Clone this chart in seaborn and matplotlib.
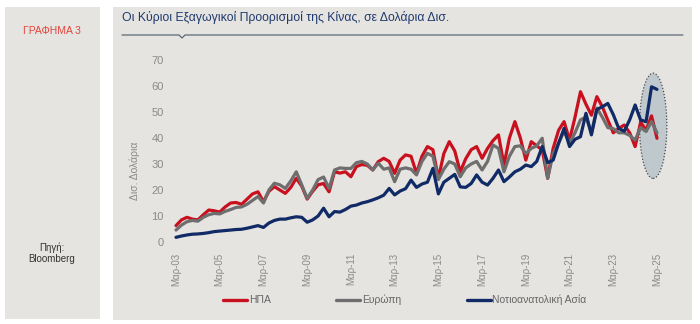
import numpy as np
import pandas as pd
import matplotlib
matplotlib.use("Agg")
import matplotlib.pyplot as plt
from matplotlib.patches import Rectangle, Ellipse
from matplotlib.lines import Line2D
import seaborn as sns

# Monthly exports (bn USD), sampled each quarter, Mar-03 .. Mar-25
usa = [
    6.3, 8.5, 9.5, 8.8,
    8.5, 10.5, 12.3, 12.0,
    11.5, 13.5, 15.0, 15.2,
    14.5, 16.5, 18.5, 19.3,
    15.5, 19.5, 21.3, 20.0,
    18.7, 21.0, 24.5, 21.5,
    16.5, 19.5, 22.0, 22.5,
    19.3, 27.0, 26.5, 27.0,
    25.1, 29.0, 29.8, 29.5,
    27.7, 30.9, 32.2, 31.0,
    26.4, 31.5, 33.5, 33.0,
    26.4, 33.0, 36.7, 35.5,
    24.5, 34.0, 38.6, 35.0,
    27.0, 32.0, 35.5, 36.7,
    32.2, 36.0, 39.0, 41.2,
    29.6, 40.0, 46.3, 40.0,
    31.5, 38.6, 37.0, 35.4,
    24.5, 36.0, 43.0, 46.3,
    39.2, 48.0, 57.8, 53.0,
    48.8, 55.9, 52.0, 46.9,
    42.0, 43.7, 45.0, 42.0,
    36.7, 46.0, 43.0, 48.5,
    39.9,
]

europe = [
    4.6, 6.5, 7.8, 8.3,
    8.0, 9.5, 10.5, 11.0,
    10.8, 11.8, 12.5, 13.3,
    13.5, 14.5, 16.0, 17.5,
    15.0, 20.0, 22.6, 22.0,
    20.6, 23.5, 27.0, 22.0,
    16.8, 20.0, 24.0, 25.0,
    20.6, 27.7, 28.5, 28.3,
    28.3, 30.5, 31.0, 30.0,
    27.7, 30.3, 28.0, 28.5,
    23.2, 28.0, 28.5, 28.0,
    25.8, 31.0, 34.1, 33.0,
    24.0, 28.0, 30.9, 30.0,
    25.1, 28.5, 30.0, 31.0,
    27.7, 31.0, 37.3, 36.0,
    27.0, 33.0, 36.7, 37.0,
    34.0, 36.0, 37.0, 39.9,
    24.5, 34.0, 38.0, 42.6,
    38.0, 42.0, 47.0, 48.0,
    42.0, 51.5, 48.0, 44.0,
    43.6, 42.0, 42.0, 41.0,
    39.2, 44.0, 42.5, 46.3,
    42.0,
]

se_asia = [
    1.8, 2.3, 2.7, 3.0,
    3.1, 3.3, 3.6, 4.0,
    4.2, 4.4, 4.6, 4.8,
    4.9, 5.3, 5.8, 6.3,
    5.6, 7.3, 8.3, 8.8,
    8.8, 9.3, 9.7, 9.5,
    7.6, 8.5, 10.0, 13.0,
    9.7, 11.7, 11.5, 12.5,
    13.8, 14.2, 15.0, 15.5,
    16.2, 17.0, 18.0, 20.6,
    18.1, 19.6, 20.5, 23.8,
    21.0, 22.3, 23.0, 28.3,
    18.5, 23.0, 24.5, 26.0,
    21.2, 21.0, 22.5, 25.8,
    23.0, 21.9, 24.5, 27.7,
    23.2, 25.0, 27.0, 28.0,
    29.6, 29.0, 31.0, 36.7,
    30.5, 31.5, 38.0, 43.7,
    36.7, 39.5, 40.5, 49.5,
    41.2, 51.0, 52.0, 53.3,
    49.0, 43.7, 42.6, 47.0,
    52.7, 46.9, 46.3, 59.7,
    58.7,
]

series_names = ["ΗΠΑ", "Ευρώπη", "Νοτιοανατολική Ασία"]
series_colors = ["#c8101e", "#6e6e6e", "#102a66"]
tick_labels = ["Μαρ-03", "Μαρ-05", "Μαρ-07", "Μαρ-09", "Μαρ-11", "Μαρ-13",
               "Μαρ-15", "Μαρ-17", "Μαρ-19", "Μαρ-21", "Μαρ-23", "Μαρ-25"]

n = len(usa)
quarter = np.arange(n)
df = pd.concat([
    pd.DataFrame({"q": quarter, "value": vals, "series": name})
    for name, vals in zip(series_names, [usa, europe, se_asia])
], ignore_index=True)

sns.set_theme(style="white")
plt.rcParams["font.family"] = ["Liberation Sans", "DejaVu Sans"]

W, H = 700, 324
fig = plt.figure(figsize=(W / 100, H / 100), dpi=100)
fig.patch.set_facecolor("white")


def fx(px):
    return px / W


def fy(py):
    return 1 - py / H


panel = "#e6e4e1"
# side panel and main panel
fig.add_artist(Rectangle((fx(5), fy(319)), fx(100) - fx(5), fy(7) - fy(319),
                         transform=fig.transFigure, facecolor=panel,
                         edgecolor="none", zorder=0))
fig.add_artist(Rectangle((fx(113), fy(320)), fx(692) - fx(113), fy(7) - fy(320),
                         transform=fig.transFigure, facecolor=panel,
                         edgecolor="none", zorder=0))

fig.text(fx(52), fy(31), "ΓΡΑΦΗΜΑ 3", color="#e0463e", fontsize=7.5,
         ha="center", va="center")
fig.text(fx(52), fy(253), "Πηγή:\nBloomberg", color="#333333", fontsize=7,
         ha="center", va="center", linespacing=1.1)

fig.text(fx(122), fy(17), "Οι Κύριοι Εξαγωγικοί Προορισμοί της Κίνας, σε Δολάρια Δισ.",
         color="#1f3a6e", fontsize=8.8, ha="left", va="center")
xs = [122, 179, 182, 185, 683]
ys = [35, 35, 38, 35, 35]
fig.add_artist(Line2D([fx(v) for v in xs], [fy(v) for v in ys],
                      transform=fig.transFigure, color="#5b6876", lw=0.9))

# plot area
x0, x1 = -2, 90
y0, y1 = -1, 72
px_per_q = (657 - 176) / 88
left_px = 176 + x0 * px_per_q
right_px = 176 + x1 * px_per_q
bot_px = 242 - y0 * 2.6
top_px = 242 - y1 * 2.6
ax = fig.add_axes([fx(left_px), fy(bot_px), fx(right_px) - fx(left_px),
                   fy(top_px) - fy(bot_px)])
ax.set_facecolor("none")

ax.add_patch(Ellipse((87.3, 44.7), 5.0, 40.5, facecolor="#bfc8cd",
                     edgecolor="#4a4a4a", linestyle=(0, (1, 1.5)), lw=0.9,
                     zorder=1))

sns.lineplot(data=df, x="q", y="value", hue="series", hue_order=series_names,
             palette=dict(zip(series_names, series_colors)), linewidth=2.3,
             ax=ax, zorder=3, legend=False, solid_joinstyle="round",
             solid_capstyle="round")

ax.set_xlim(x0, x1)
ax.set_ylim(y0, y1)
ax.set_xticks(np.arange(0, n, 8))
ax.set_xticklabels(tick_labels, rotation=90, fontsize=7, color="#8a8a8a")
ax.set_yticks(np.arange(0, 71, 10))
ax.set_yticklabels([str(v) for v in range(0, 71, 10)], fontsize=8, color="#8a8a8a")
ax.tick_params(axis="both", length=0)
ax.tick_params(axis="x", pad=6)
ax.tick_params(axis="y", pad=1)
ax.set_xlabel("")
ax.set_ylabel("Δισ. Δολάρια", fontsize=7.5, color="#8a8a8a")
ax.yaxis.set_label_coords((140 - left_px) / (right_px - left_px),
                          (bot_px - 171) / (bot_px - top_px))
for s in ax.spines.values():
    s.set_visible(False)

handles = [Line2D([], [], color=c, lw=2.4) for c in series_colors]
fig.legend(handles, series_names, loc="center", bbox_to_anchor=(fx(405), fy(300)),
           ncol=3, frameon=False, fontsize=7.5, handlelength=2.3,
           handletextpad=0.15, columnspacing=6.3, labelcolor="#666666")

fig.savefig("out.png", dpi=100, facecolor="white")
